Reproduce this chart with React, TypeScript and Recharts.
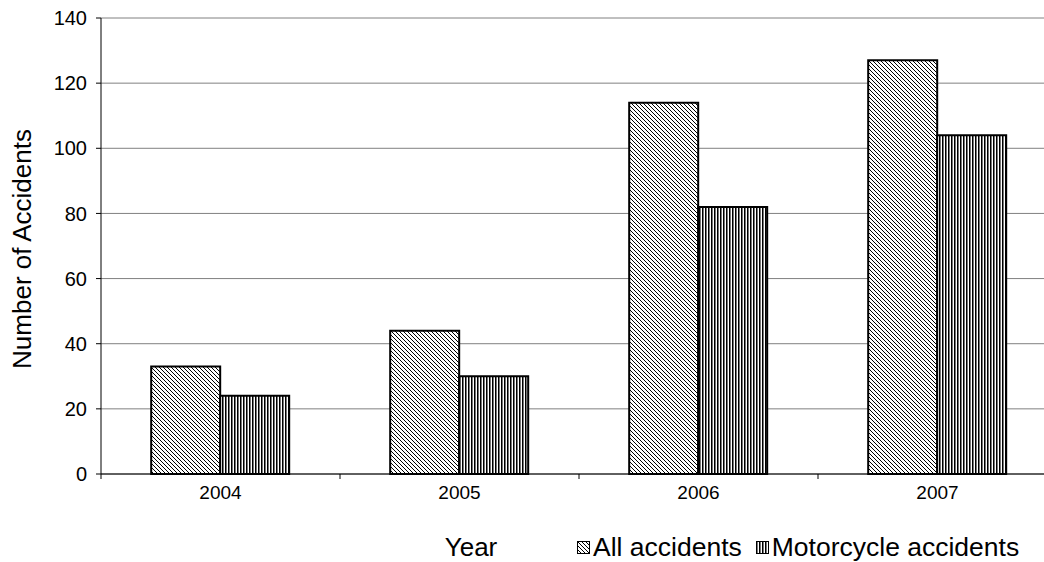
import { Bar, BarChart, CartesianGrid, XAxis, YAxis } from "recharts";

const years = ["2004", "2005", "2006", "2007"];
const allAccidents = [33, 44, 114, 127];
const motorcycleAccidents = [24, 30, 82, 104];
const yTicks = [0, 20, 40, 60, 80, 100, 120, 140];

const data = years.map((year, i) => ({
  year,
  all: allAccidents[i],
  moto: motorcycleAccidents[i]
}));

const CHART_W = 1070;
const CHART_H = 562;
const MARGIN = { top: 18, right: 13, left: 0, bottom: 0 };
const Y_AXIS_W = 101;
const PLOT_W = CHART_W - MARGIN.left - MARGIN.right - Y_AXIS_W;
const font = "'Liberation Sans', Arial, sans-serif";

function XTick(props: any) {
  const { x, y, payload, index } = props;
  const half = PLOT_W / years.length / 2;
  return (
    <g>
      <line x1={x - half} x2={x - half} y1={y} y2={y + 5} stroke="#000" strokeWidth={1} />
      {index === years.length - 1 && (
        <line x1={x + half} x2={x + half} y1={y} y2={y + 5} stroke="#000" strokeWidth={1} />
      )}
      <text x={x} y={y + 25} textAnchor="middle" fontSize={19} fontFamily={font} fill="#000">
        {payload.value}
      </text>
    </g>
  );
}

function YTitle(props: any) {
  const { viewBox } = props;
  const cx = viewBox.x + 22;
  const cy = viewBox.y + viewBox.height / 2 + 3;
  return (
    <text
      x={cx}
      y={cy}
      transform={`rotate(-90 ${cx} ${cy})`}
      textAnchor="middle"
      dominantBaseline="central"
      fontSize={26}
      fontFamily={font}
      fill="#000"
    >
      Number of Accidents
    </text>
  );
}

function XTitle() {
  return (
    <text x={471} y={556} textAnchor="middle" fontSize={26} fontFamily={font} fill="#000">
      Year
    </text>
  );
}

function Swatch({ pattern }: { pattern: string }) {
  return (
    <svg width={13} height={13} style={{ marginRight: 3, display: "inline-block" }}>
      <rect x={0.5} y={0.5} width={12} height={12} fill={`url(#${pattern})`} stroke="#000" strokeWidth={1} />
    </svg>
  );
}

export default function App() {
  return (
    <div style={{ position: "fixed", left: 0, top: 0, width: 1044, height: 562, overflow: "hidden", background: "#fff" }}>
      <BarChart width={CHART_W} height={CHART_H} data={data} margin={MARGIN} barCategoryGap="21%" barGap={0}>
        <defs>
          <pattern id="diag" width={4} height={4} patternUnits="userSpaceOnUse">
            <rect width={4} height={4} fill="#fff" />
            <path d="M-1,-1 L5,5 M-1,3 L1,5 M3,-1 L5,1" stroke="#000" strokeWidth={1} />
          </pattern>
          <pattern id="vert" width={3} height={3} patternUnits="userSpaceOnUse">
            <rect width={3} height={3} fill="#fff" />
            <rect x={0} width={1} height={3} fill="#000" />
            <rect x={1} width={1} height={3} fill="#777" />
          </pattern>
        </defs>
        <CartesianGrid vertical={false} stroke="#808080" />
        <XAxis
          dataKey="year"
          height={CHART_H - MARGIN.top - 456}
          axisLine={{ stroke: "#000" }}
          tickLine={false}
          tickSize={0}
          tickMargin={0}
          tick={<XTick />}
          interval={0}
          label={{ content: <XTitle /> }}
        />
        <YAxis
          width={Y_AXIS_W}
          domain={[0, 140]}
          ticks={yTicks}
          axisLine={{ stroke: "#000" }}
          tickLine={{ stroke: "#000" }}
          tickSize={5}
          tickMargin={9}
          tick={{ fontSize: 20, fontFamily: font, fill: "#000" }}
          label={{ content: <YTitle /> }}
        />
        <Bar dataKey="all" name="All accidents" fill="url(#diag)" stroke="#000" strokeWidth={2} isAnimationActive={false} />
        <Bar dataKey="moto" name="Motorcycle accidents" fill="url(#vert)" stroke="#000" strokeWidth={2} isAnimationActive={false} />
      </BarChart>
      <div
        style={{
          position: "absolute",
          left: 577,
          top: 532,
          fontFamily: font,
          fontSize: 26.5,
          color: "#000",
          display: "flex",
          alignItems: "center",
          whiteSpace: "nowrap",
          lineHeight: "30px"
        }}
      >
        <Swatch pattern="diag" />
        <span style={{ marginRight: 14 }}>All accidents</span>
        <Swatch pattern="vert" />
        <span>Motorcycle accidents</span>
      </div>
    </div>
  );
}
